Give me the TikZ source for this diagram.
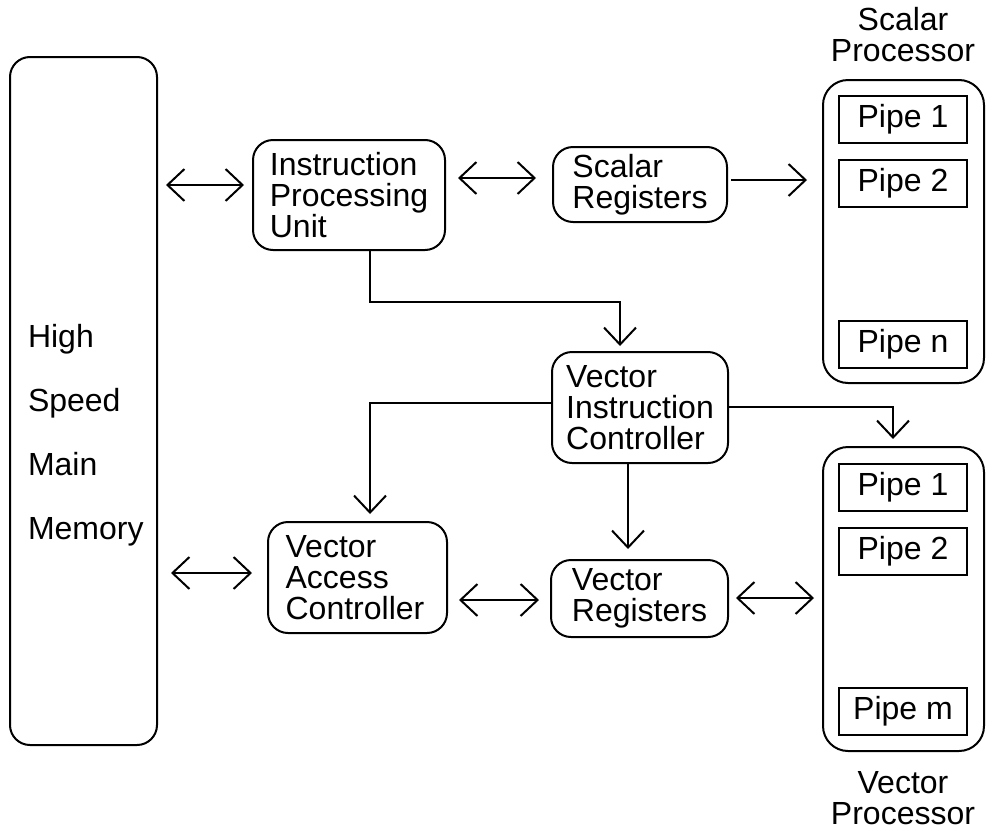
\documentclass[tikz,border=0pt]{standalone}
\usepackage{fontspec}
\setmainfont{Liberation Sans}
\usetikzlibrary{arrows.meta,calc}
\begin{document}
\begin{tikzpicture}[x=1pt,y=-1pt, line width=2pt,
 txt/.style={font=\fontsize{32}{31}\selectfont},
 box/.style={txt, draw, rounded corners=20pt, inner sep=0pt, align=left},
 proc/.style={draw, rounded corners=25pt, inner sep=0pt, minimum width=161pt, minimum height=#1},
 pipe/.style={txt, draw, rectangle, minimum width=128pt, minimum height=47pt, inner sep=0pt},
 lbl/.style={txt, align=center, inner sep=0pt},
 tip/.style={-{Straight Barb[length=17pt,width=32pt]}},
 bi/.style={{Straight Barb[length=17pt,width=32pt]}-{Straight Barb[length=17pt,width=32pt]}}]
\useasboundingbox (0,0) rectangle (992,830);

% main memory
\node[draw, rounded corners=20pt, minimum width=147pt, minimum height=688pt, inner sep=0pt] (mem) at (83.5,401) {};
\node[txt, align=left, inner sep=0pt, anchor=west, font=\fontsize{32}{64}\selectfont] (memtext) at (27,435) {High\\Speed\\Main\\Memory};

% boxes
\node[box, minimum width=192pt, minimum height=110pt] (ipu) at (349,195) {Instruction\\Processing\\Unit};
\node[box, minimum width=174pt, minimum height=75pt] (sr) at (640,184.5) {Scalar\\Registers};
\node[box, minimum width=176pt, minimum height=111pt] (vic) at (640,407.5) {Vector\\Instruction\\Controller};
\node[draw, rounded corners=20pt, minimum width=179pt, minimum height=111pt, inner sep=0pt] (vac) at (357.5,577.5) {};
\node[txt, align=left, inner sep=0pt] (vactext) at (355,577.5) {Vector\\Access\\Controller};
\node[box, minimum width=177pt, minimum height=77pt] (vr) at (639.5,598.5) {Vector\\Registers};

% scalar processor
\node[proc=303pt] (sp) at (903.5,231.5) {};
\node[pipe] (sp1) at (903,119.5) {Pipe 1};
\node[pipe] (sp2) at (903,183) {Pipe 2};
\node[pipe] (spn) at (903,344) {Pipe n};
\node[lbl] (splbl) at (903,35) {Scalar\\Processor};

% vector processor
\node[proc=304pt] (vp) at (903.5,599) {};
\node[pipe] (vp1) at (903,487) {Pipe 1};
\node[pipe] (vp2) at (903,551.5) {Pipe 2};
\node[pipe] (vpm) at (903,711) {Pipe m};
\node[lbl] (vplbl) at (903,798) {Vector\\Processor};

% helper coordinates
\coordinate (a1) at (ipu.west |- 0,185);
\coordinate (a2) at (ipu.east |- 0,178);
\coordinate (a3) at (sr.east |- 0,180);
\coordinate (a4) at (vac.west |- 0,573);
\coordinate (a5) at (vac.east |- 0,600);
\coordinate (a6) at (vr.east |- 0,598);
\coordinate (ipuout) at (ipu.south -| 370,0);
\coordinate (bend1) at (370,302);
\coordinate (vicin) at (vic.north -| 620,0);
\coordinate (vicl) at (vic.west |- 0,403);
\coordinate (vicr) at (vic.east |- 0,407);
\coordinate (vicb) at (vic.south -| 628,0);

% connectors
\draw[bi, shorten <=8pt, shorten >=8pt] (mem.east |- a1) -- (a1);
\draw[bi, shorten <=12pt, shorten >=16pt] (a2) -- (sr.west |- a2);
\draw[tip, shorten <=3pt, shorten >=15pt] (a3) -- (sp.west |- a3);
\draw[tip, shorten >=5pt] (ipuout) -- (bend1) -| (vicin);
\draw[tip, shorten >=7pt] (vicl) -| (vac.north -| 370,0);
\draw[tip, shorten >=7pt] (vicr) -| (vp.north -| 893,0);
\draw[tip, shorten >=10pt] (vicb) -- (vr.north -| vicb);
\draw[bi, shorten <=13pt, shorten >=15pt] (mem.east |- a4) -- (a4);
\draw[bi, shorten <=11pt, shorten >=11pt] (a5) -- (vr.west |- a5);
\draw[bi, shorten <=7pt, shorten >=8pt] (a6) -- (vp.west |- a6);
\end{tikzpicture}
\end{document}
